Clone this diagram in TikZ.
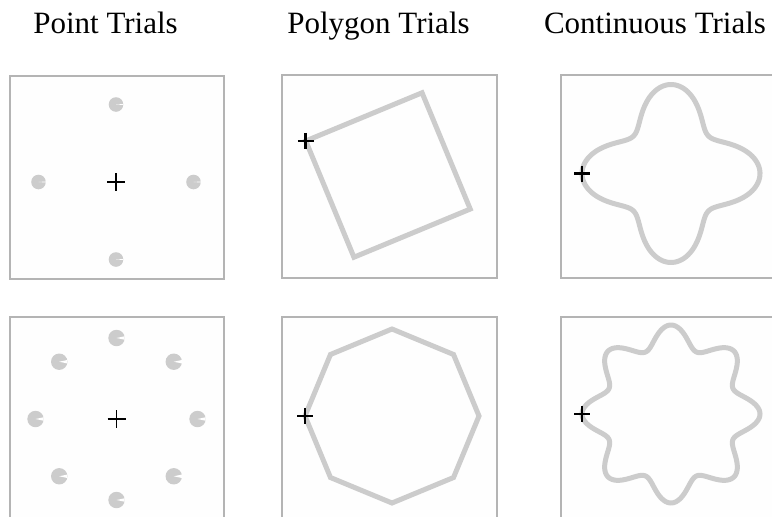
\documentclass[tikz,border=0pt]{standalone}
\usepackage{fontspec}
\setmainfont{Liberation Serif}
\usetikzlibrary{calc}
\definecolor{boxline}{HTML}{B4B4B4}
\definecolor{boxfill}{HTML}{FEFEFE}
\definecolor{shapegray}{HTML}{CCCCCC}
\tikzset{
  title/.style={anchor=base, inner sep=0pt, font=\fontsize{31}{36}\selectfont},
  panel/.style={draw=boxline, fill=boxfill, line width=1.3pt, inner sep=0pt},
  trace/.style={draw=shapegray, line width=5pt, line join=miter},
  fixa/.style={line width=1.5pt, black},
  fixb/.style={line width=2.8pt, black},
}
\newcommand{\target}[3]{% center, radius, notch half-angle
  \fill[shapegray] (#1) circle (#2);
  \fill[white] (#1) -- ++(-#3:#2) arc (-#3:#3:#2) -- cycle;
}
\begin{document}
\begin{tikzpicture}[x=1pt,y=-1pt]
\useasboundingbox (0,0) rectangle (772,517);
\clip (0,0) rectangle (772,517);
\fill[white] (0,0) rectangle (772,517);

% titles
\node[title] (t1) at (105.5,33.3) {Point Trials};
\node[title] (t2) at (378.5,33.3) {Polygon Trials};
\node[title] (t3) at (655,33.3) {Continuous Trials};

% panels
\node[panel, minimum width=214pt, minimum height=203pt] (p1) at (117,177.5) {};
\node[panel, minimum width=215pt, minimum height=203pt] (p2) at (389.5,176.5) {};
\node[panel, minimum width=215pt, minimum height=203pt] (p3) at (668.5,176.5) {};
\node[panel, minimum width=214pt, minimum height=230pt] (p4) at (117,432) {};
\node[panel, minimum width=215pt, minimum height=230pt] (p5) at (389.5,432) {};
\node[panel, minimum width=215pt, minimum height=230pt] (p6) at (668.5,432) {};

% --- Point trials, 4 targets
\coordinate (c1) at (116,182);
\foreach \a in {0,90,180,270} {
  \target{$(c1)+(\a:77.5)$}{7.3}{4}
}
\draw[fixa] ($(c1)+(-9,0)$) -- ($(c1)+(9,0)$) ($(c1)+(0,-9)$) -- ($(c1)+(0,9)$);

% --- Point trials, 8 targets
\coordinate (c4) at (116.5,419);
\foreach \a in {0,45,...,315} {
  \target{$(c4)+(\a:81)$}{8.2}{12}
}
\draw[fixa] ($(c4)+(-9,0)$) -- ($(c4)+(9,0)$) ($(c4)+(0,-9)$) -- ($(c4)+(0,9)$);

% --- Polygon trials, square
\coordinate (c2) at (388,175);
\draw[trace] ($(c2)+(22.5:89)$) -- ($(c2)+(112.5:89)$) -- ($(c2)+(202.5:89)$) -- ($(c2)+(292.5:89)$) -- cycle;
\coordinate (s2) at ($(c2)+(202.5:89)$);
\draw[fixb] ($(s2)+(-8,0)$) -- ($(s2)+(8,0)$) ($(s2)+(0,-8)$) -- ($(s2)+(0,8)$);

% --- Polygon trials, octagon
\coordinate (c5) at (392,416);
\draw[trace] ($(c5)+(0:87)$) \foreach \a in {45,90,...,315} { -- ($(c5)+(\a:87)$) } -- cycle;
\coordinate (s5) at ($(c5)+(180:87)$);
\draw[fixb] ($(s5)+(-8,0)$) -- ($(s5)+(8,0)$) ($(s5)+(0,-8)$) -- ($(s5)+(0,8)$);

% --- Continuous trials, 4 lobes
\coordinate (c3) at (671,173.5);
\draw[trace, shift={(c3)}] plot[domain=0:360, samples=240, smooth cycle] (\x:{71+18*cos(4*\x)});
\coordinate (s3) at ($(c3)+(180:89)$);
\draw[fixb] ($(s3)+(-8,0)$) -- ($(s3)+(8,0)$) ($(s3)+(0,-8)$) -- ($(s3)+(0,8)$);

% --- Continuous trials, 8 lobes
\coordinate (c6) at (671,414);
\draw[trace, shift={(c6)}] plot[domain=0:360, samples=360, smooth cycle] (\x:{78+11*cos(8*\x)});
\coordinate (s6) at ($(c6)+(180:89)$);
\draw[fixb] ($(s6)+(-8,0)$) -- ($(s6)+(8,0)$) ($(s6)+(0,-8)$) -- ($(s6)+(0,8)$);
\end{tikzpicture}
\end{document}
